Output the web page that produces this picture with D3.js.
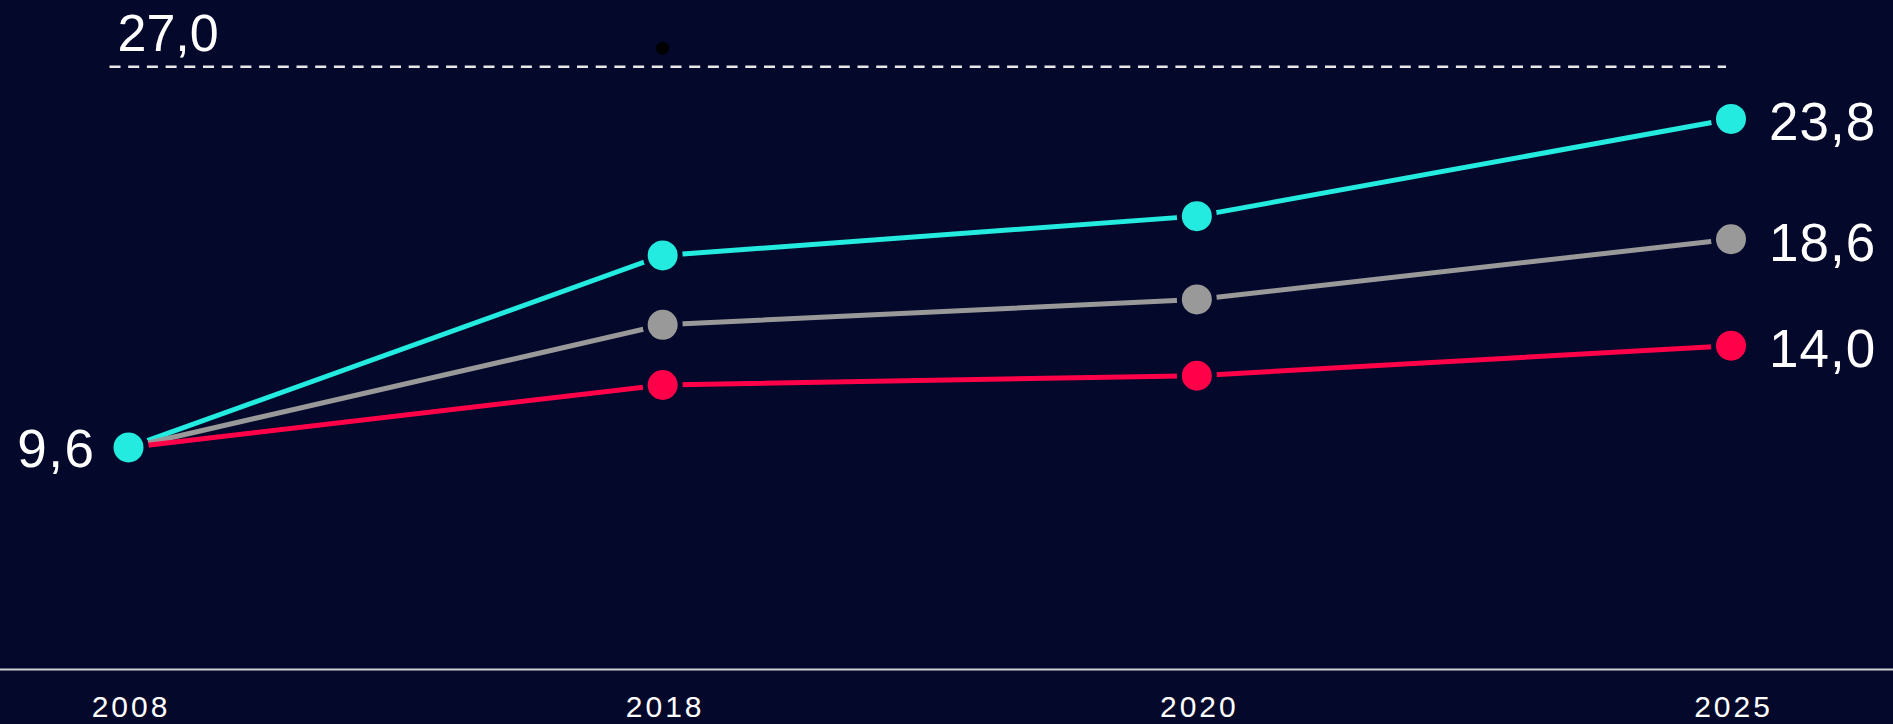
<!DOCTYPE html>
<html lang="en">
<head>
<meta charset="UTF-8">
<title>Line chart</title>
<script src="https://d3js.org/d3.v7.min.js"></script>
<style>
  html, body { margin: 0; padding: 0; background: #04082a; overflow: hidden; }
  svg { display: block; font-family: "Liberation Sans", Arial, sans-serif; }
</style>
</head>
<body>
<div id="chart"></div>
<script>
// data
const years = ["2008", "2018", "2020", "2025"];
const seriesNames = ["high", "mid", "low"];
const highValues = [9.6, 17.9, 19.6, 23.8];
const midValues = [9.6, 14.9, 16.0, 18.6];
const lowValues = [9.6, 12.3, 12.7, 14.0];
const seriesColors = ["#23ebdf", "#999999", "#ff0049"];
const targetValue = 27.0;
const yTop = 26.06; // value sitting at the top of the plot, where the target line is drawn

const W = 1893, H = 724;
const bg = "#04082a";
const fmt = v => v.toFixed(1).replace(".", ",");

const svg = d3.select("#chart").append("svg")
    .attr("width", W)
    .attr("height", H);

svg.append("rect").attr("width", W).attr("height", H).attr("fill", bg);

const x = d3.scalePoint()
    .domain(years)
    .range([128.5, 1731]);

const y = d3.scaleLinear()
    .domain([0, yTop])
    .range([669.5, 66.7]);

const series = [highValues, midValues, lowValues].map((vals, i) => ({
    name: seriesNames[i],
    color: seriesColors[i],
    points: vals.map((v, j) => ({ year: years[j], value: v }))
}));

//AXIS
const xAxis = d3.axisBottom(x).tickSize(0).tickPadding(0);
const axisG = svg.append("g")
    .attr("transform", "translate(0," + y(0) + ")")
    .call(xAxis);
axisG.select(".domain").remove();
axisG.append("line")
    .attr("x1", 0).attr("x2", W)
    .attr("stroke", "#d0d0d0")
    .attr("stroke-width", 2);
axisG.selectAll(".tick text")
    .attr("y", 47.5)
    .attr("dy", null)
    .attr("dx", "2px")
    .attr("fill", "#fff")
    .attr("font-size", 30)
    .attr("letter-spacing", "3px")
    .attr("font-family", "Liberation Sans, Arial, sans-serif");

//TARGET LINE
const targetY = y.range()[1];
svg.append("line")
    .attr("x1", x.range()[0] - 19)
    .attr("x2", x.range()[1] - 5)
    .attr("y1", targetY).attr("y2", targetY)
    .attr("stroke", "#e8e8e8")
    .attr("stroke-width", 2.5)
    .attr("stroke-dasharray", "11,7.7");

svg.append("text")
    .attr("x", x.range()[0] - 11)
    .attr("y", targetY - 16)
    .attr("fill", "#fff")
    .attr("font-size", 52)
    .text(fmt(targetValue));

// stray dot above the 2018 column
svg.append("circle")
    .attr("cx", x("2018"))
    .attr("cy", targetY - 18.5)
    .attr("r", 6.5)
    .attr("fill", "#000");

//LINES
const line = d3.line()
    .x(d => x(d.year))
    .y(d => y(d.value));

svg.append("g").selectAll("path")
    .data(series)
    .enter()
    .append("path")
    .attr("d", d => line(d.points))
    .attr("fill", "none")
    .attr("stroke", d => d.color)
    .attr("stroke-width", 5);

//MARKERS (reverse so the top series sits on top at the shared start)
svg.append("g").selectAll("g")
    .data(series.slice().reverse())
    .enter()
    .append("g")
    .selectAll("circle")
    .data(d => d.points.map(p => Object.assign({ color: d.color }, p)))
    .enter()
    .append("circle")
    .attr("cx", d => x(d.year))
    .attr("cy", d => y(d.value))
    .attr("r", 15)
    .attr("fill", d => d.color)
    .attr("stroke", bg)
    .attr("stroke-width", 10)
    .attr("paint-order", "stroke");

//VALUE LABELS
const first = series[0].points[0];
svg.append("text")
    .attr("x", x(first.year) - 33)
    .attr("y", y(first.value) + 20)
    .attr("text-anchor", "end")
    .attr("fill", "#fff")
    .attr("font-size", 53)
    .attr("letter-spacing", "1.5px")
    .text(fmt(first.value));

svg.append("g").selectAll("text")
    .data(series)
    .enter()
    .append("text")
    .attr("x", d => x(years[years.length - 1]) + 38)
    .attr("y", d => y(d.points[d.points.length - 1].value) + 21.5)
    .attr("fill", "#fff")
    .attr("font-size", 53)
    .attr("letter-spacing", "1px")
    .text(d => fmt(d.points[d.points.length - 1].value));
</script>
</body>
</html>
